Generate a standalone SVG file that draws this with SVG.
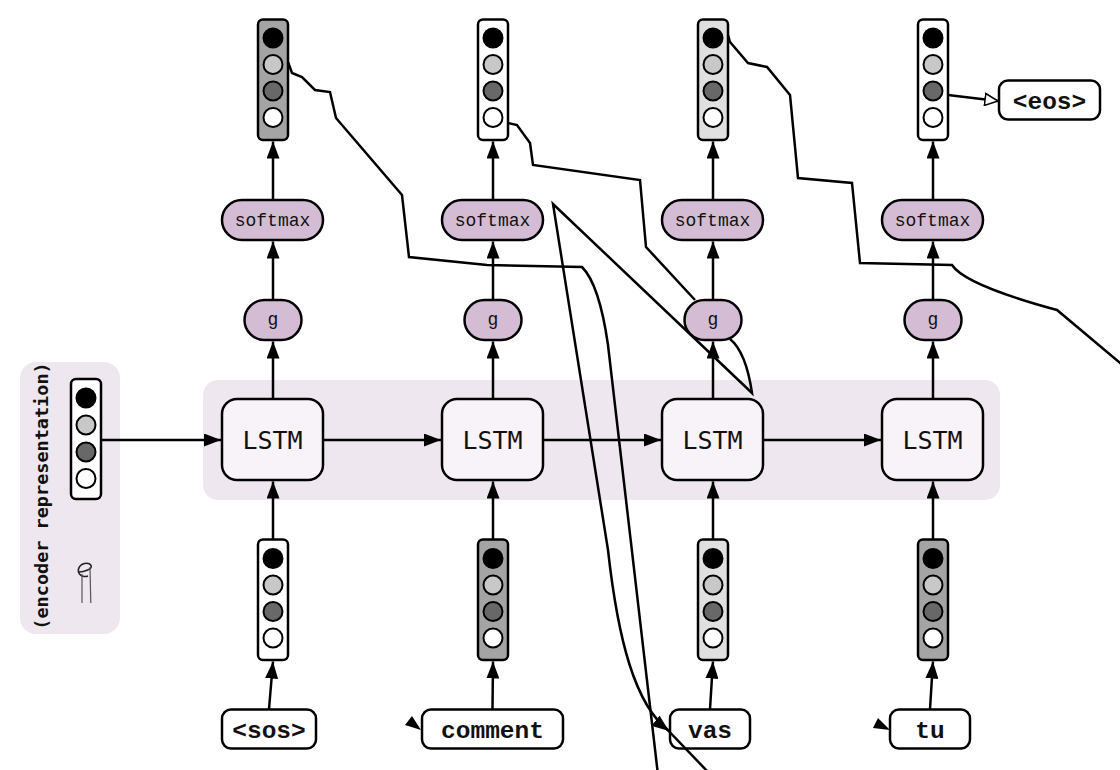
<svg xmlns="http://www.w3.org/2000/svg" width="1120" height="770" viewBox="0 0 1120 770">
<style>
.bg{fill:#efe7ef}
.vec{stroke:#000;stroke-width:2.5}
.c{stroke:#000;stroke-width:2}
.k{fill:#000}.l{fill:#c8c8c8}.d{fill:#686868}.w{fill:#fff}
.lstm{fill:#f8f3f8;stroke:#000;stroke-width:2.5}
.op{fill:#d4bcd4;stroke:#000;stroke-width:2.5}
.word{fill:#fff;stroke:#000;stroke-width:2.5}
.t-lstm{font-family:"DejaVu Sans Mono",monospace;font-size:25px;text-anchor:middle;fill:#111}
.t-op{font-family:"Liberation Mono","Courier New",monospace;font-size:18px;text-anchor:middle;fill:#111}
.t-word{font-family:"Liberation Mono","Courier New",monospace;font-size:24.5px;font-weight:bold;text-anchor:middle;fill:#111}
.t-enc{font-family:"DejaVu Sans Mono",monospace;font-size:18.5px;font-weight:bold;text-anchor:middle;fill:#111}
.edge{fill:none;stroke:#000;stroke-width:2.5}
.arr{fill:none;stroke:#000;stroke-width:2.5;marker-end:url(#ah)}
</style>
<defs>
<marker id="ah" markerUnits="userSpaceOnUse" markerWidth="17" markerHeight="13" refX="17" refY="6.5" orient="auto"><path d="M0,0 L17,6.5 L0,13 z" fill="#000"/></marker>
<marker id="oh" markerUnits="userSpaceOnUse" markerWidth="16" markerHeight="14" refX="14" refY="7" orient="auto"><path d="M1,1 L14,7 L1,13 z" fill="#fff" stroke="#000" stroke-width="1.5"/></marker>
</defs>

<g id="encoder-panel">
<rect class="bg" x="20" y="362" width="100" height="272" rx="16"/>
<text class="t-enc" transform="translate(48,496) rotate(-90)">(encoder representation)</text>
<g id="encoder-vector">
<rect class="vec" x="71" y="379" width="30" height="120" rx="5" fill="#fff"/>
<circle class="c k" cx="86" cy="398" r="9.5"/><circle class="c l" cx="86" cy="425" r="9.5"/><circle class="c d" cx="86" cy="452" r="9.5"/><circle class="c w" cx="86" cy="478.5" r="9.5"/>
</g>
<path d="M79,572 C84,572 93,569 91,565.5 C89,561.5 80,563 78.5,569 C77.5,574 82,578 88,576" fill="none" stroke="#222" stroke-width="1.6"/>
<path d="M82,574 L82,603 M90,567 L90.8,603" fill="none" stroke="#555" stroke-width="1.2"/>
</g>

<rect id="lstm-band" class="bg" x="203" y="380" width="797" height="120" rx="15"/>

<g id="out-vec-1"><rect class="vec" x="258" y="19.5" width="30" height="120.5" rx="5" fill="#a4a4a4"/><circle class="c k" cx="273" cy="38" r="9.5"/><circle class="c l" cx="273" cy="64.5" r="9.5"/><circle class="c d" cx="273" cy="91" r="9.5"/><circle class="c w" cx="273" cy="117.5" r="9.5"/></g>
<g id="out-vec-2"><rect class="vec" x="478" y="19.5" width="30" height="120.5" rx="5" fill="#fff"/><circle class="c k" cx="493" cy="38" r="9.5"/><circle class="c l" cx="493" cy="64.5" r="9.5"/><circle class="c d" cx="493" cy="91" r="9.5"/><circle class="c w" cx="493" cy="117.5" r="9.5"/></g>
<g id="out-vec-3"><rect class="vec" x="698" y="19.5" width="30" height="120.5" rx="5" fill="#e0e0e0"/><circle class="c k" cx="713" cy="38" r="9.5"/><circle class="c l" cx="713" cy="64.5" r="9.5"/><circle class="c d" cx="713" cy="91" r="9.5"/><circle class="c w" cx="713" cy="117.5" r="9.5"/></g>
<g id="out-vec-4"><rect class="vec" x="918" y="19.5" width="30" height="120.5" rx="5" fill="#fff"/><circle class="c k" cx="933" cy="38" r="9.5"/><circle class="c l" cx="933" cy="64.5" r="9.5"/><circle class="c d" cx="933" cy="91" r="9.5"/><circle class="c w" cx="933" cy="117.5" r="9.5"/></g>

<g id="softmax-1"><rect class="op" x="222" y="200" width="101" height="40" rx="20"/><text class="t-op" x="272.5" y="225.5">softmax</text></g>
<g id="softmax-2"><rect class="op" x="442" y="200" width="101" height="40" rx="20"/><text class="t-op" x="492.5" y="225.5">softmax</text></g>
<g id="softmax-3"><rect class="op" x="662" y="200" width="101" height="40" rx="20"/><text class="t-op" x="712.5" y="225.5">softmax</text></g>
<g id="softmax-4"><rect class="op" x="882" y="200" width="101" height="40" rx="20"/><text class="t-op" x="932.5" y="225.5">softmax</text></g>

<g id="g-1"><rect class="op" x="244.5" y="300" width="57" height="40" rx="20"/><text class="t-op" x="273" y="325">g</text></g>
<g id="g-2"><rect class="op" x="464.5" y="300" width="57" height="40" rx="20"/><text class="t-op" x="493" y="325">g</text></g>
<g id="g-3"><rect class="op" x="684.5" y="300" width="57" height="40" rx="20"/><text class="t-op" x="713" y="325">g</text></g>
<g id="g-4"><rect class="op" x="904.5" y="300" width="57" height="40" rx="20"/><text class="t-op" x="933" y="325">g</text></g>

<g id="lstm-1"><rect class="lstm" x="222" y="399" width="101" height="81" rx="15"/><text class="t-lstm" x="272.5" y="449">LSTM</text></g>
<g id="lstm-2"><rect class="lstm" x="442" y="399" width="101" height="81" rx="15"/><text class="t-lstm" x="492.5" y="449">LSTM</text></g>
<g id="lstm-3"><rect class="lstm" x="662" y="399" width="101" height="81" rx="15"/><text class="t-lstm" x="712.5" y="449">LSTM</text></g>
<g id="lstm-4"><rect class="lstm" x="882" y="399" width="101" height="81" rx="15"/><text class="t-lstm" x="932.5" y="449">LSTM</text></g>

<g id="in-vec-1"><rect class="vec" x="258" y="539.5" width="30" height="120.5" rx="5" fill="#fff"/><circle class="c k" cx="273" cy="558.5" r="9.5"/><circle class="c l" cx="273" cy="585" r="9.5"/><circle class="c d" cx="273" cy="611.5" r="9.5"/><circle class="c w" cx="273" cy="638" r="9.5"/></g>
<g id="in-vec-2"><rect class="vec" x="478" y="539.5" width="30" height="120.5" rx="5" fill="#a4a4a4"/><circle class="c k" cx="493" cy="558.5" r="9.5"/><circle class="c l" cx="493" cy="585" r="9.5"/><circle class="c d" cx="493" cy="611.5" r="9.5"/><circle class="c w" cx="493" cy="638" r="9.5"/></g>
<g id="in-vec-3"><rect class="vec" x="698" y="539.5" width="30" height="120.5" rx="5" fill="#e0e0e0"/><circle class="c k" cx="713" cy="558.5" r="9.5"/><circle class="c l" cx="713" cy="585" r="9.5"/><circle class="c d" cx="713" cy="611.5" r="9.5"/><circle class="c w" cx="713" cy="638" r="9.5"/></g>
<g id="in-vec-4"><rect class="vec" x="918" y="539.5" width="30" height="120.5" rx="5" fill="#a4a4a4"/><circle class="c k" cx="933" cy="558.5" r="9.5"/><circle class="c l" cx="933" cy="585" r="9.5"/><circle class="c d" cx="933" cy="611.5" r="9.5"/><circle class="c w" cx="933" cy="638" r="9.5"/></g>

<g id="word-sos"><rect class="word" x="222" y="709.5" width="94" height="39" rx="9"/><text class="t-word" x="269" y="737.5">&lt;sos&gt;</text></g>
<g id="word-comment"><rect class="word" x="422" y="709.5" width="141" height="39" rx="9"/><text class="t-word" x="492.5" y="737.5">comment</text></g>
<g id="word-vas"><rect class="word" x="670" y="709.5" width="80" height="39" rx="9"/><text class="t-word" x="710" y="737.5">vas</text></g>
<g id="word-tu"><rect class="word" x="890" y="709.5" width="80" height="39" rx="9"/><text class="t-word" x="930" y="737.5">tu</text></g>
<g id="word-eos"><rect class="word" x="999" y="80.5" width="101" height="39" rx="9"/><text class="t-word" x="1049.5" y="108.5">&lt;eos&gt;</text></g>

<g id="connectors">
<line class="arr" x1="101.5" y1="440" x2="221" y2="440"/>
<line class="arr" x1="324" y1="440" x2="441" y2="440"/>
<line class="arr" x1="544" y1="440" x2="661" y2="440"/>
<line class="arr" x1="764" y1="440" x2="881" y2="440"/>

<line class="arr" x1="269" y1="709" x2="273" y2="661.5"/>
<line class="arr" x1="492.5" y1="709" x2="493" y2="661.5"/>
<line class="arr" x1="710" y1="709" x2="713" y2="661.5"/>
<line class="arr" x1="930" y1="709" x2="933" y2="661.5"/>

<line class="arr" x1="273" y1="539" x2="273" y2="481.5"/>
<line class="arr" x1="493" y1="539" x2="493" y2="481.5"/>
<line class="arr" x1="713" y1="539" x2="713" y2="481.5"/>
<line class="arr" x1="933" y1="539" x2="933" y2="481.5"/>

<line class="arr" x1="273" y1="398" x2="273" y2="341.5"/>
<line class="arr" x1="493" y1="398" x2="493" y2="341.5"/>
<line class="arr" x1="713" y1="398" x2="713" y2="341.5"/>
<line class="arr" x1="933" y1="398" x2="933" y2="341.5"/>

<line class="arr" x1="273" y1="299" x2="273" y2="241.5"/>
<line class="arr" x1="493" y1="299" x2="493" y2="241.5"/>
<line class="arr" x1="713" y1="299" x2="713" y2="241.5"/>
<line class="arr" x1="933" y1="299" x2="933" y2="241.5"/>

<line class="arr" x1="273" y1="199" x2="273" y2="141.5"/>
<line class="arr" x1="493" y1="199" x2="493" y2="141.5"/>
<line class="arr" x1="713" y1="199" x2="713" y2="141.5"/>
<line class="arr" x1="933" y1="199" x2="933" y2="141.5"/>

<path class="edge" d="M288,62 L292,73 L302,77 L315,90 L330,92 L336,118 L402,195 L409,257 L487,265 L582,267 C595,280 603,310 608,345 L658,775"/>
<path class="edge" d="M508,123 L517,125 L530,143 L533,165 L640,180 L646,247 L695,300"/>
<path class="edge" d="M728,35 L730,42 L748,63 L767,67 L790,95 L798,178 L852,183 L860,263 L952,265 Q965,285 1057,310 L1125,367"/>
<path class="edge" d="M730,339 Q746,352 752,393 L553,204 L608,550 C618,640 635,705 669,731" marker-end="url(#ah)"/>
<line class="edge" x1="661" y1="723" x2="709" y2="773"/>
<line class="edge" x1="948" y1="95" x2="998" y2="101" marker-end="url(#oh)"/>
<polygon points="405,725 412,716 421,730" fill="#000"/>
<polygon points="873,728 878,718 890,730" fill="#000"/>
</g>
</svg>
